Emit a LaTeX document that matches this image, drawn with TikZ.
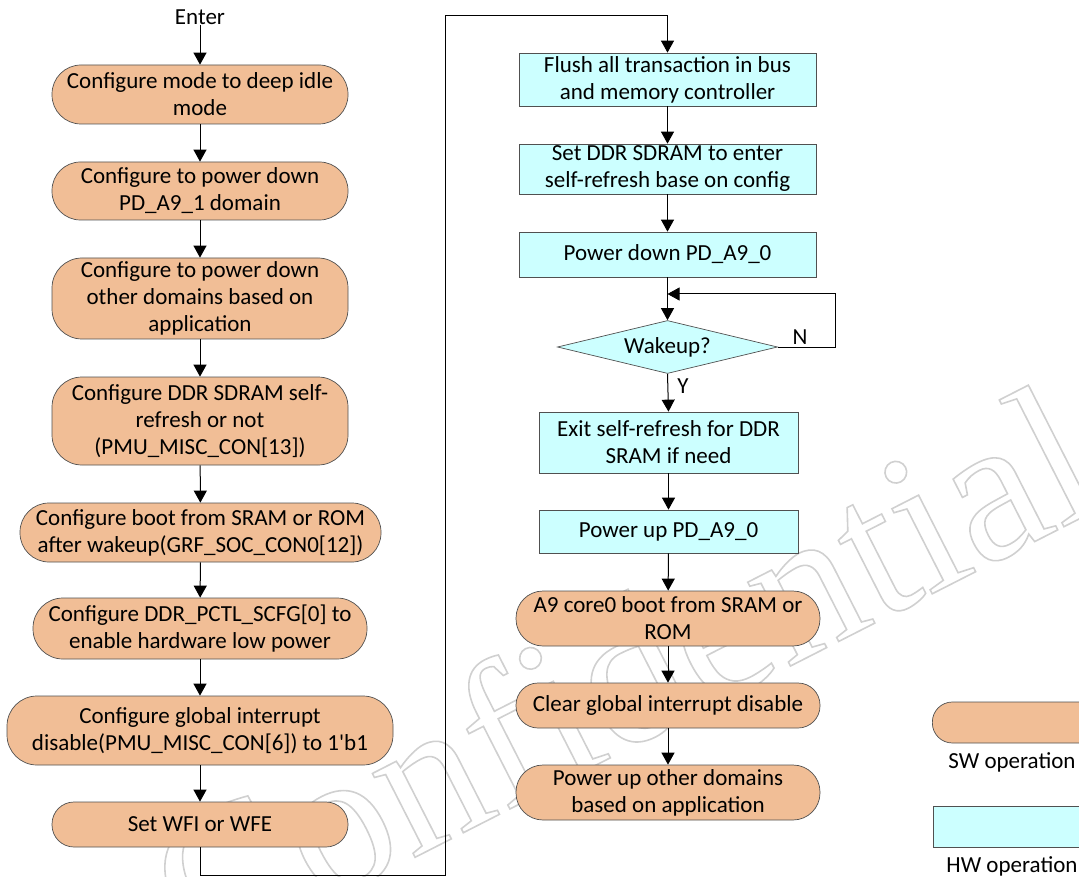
\documentclass[tikz,border=0pt]{standalone}
\usepackage{fontspec}
\setmainfont{Carlito}[Ligatures=TeXOff]
\newfontfamily\markfont{Liberation Serif}
\usetikzlibrary{arrows.meta,shapes.geometric}
\definecolor{swfill}{RGB}{241,190,150}
\definecolor{hwfill}{RGB}{204,255,255}
\definecolor{edge}{RGB}{80,80,80}
\definecolor{markgray}{RGB}{208,208,208}

\begin{document}
\begin{tikzpicture}[x=1pt,y=-1pt,
  every node/.style={font=\fontsize{23}{27}\selectfont, align=center, inner sep=0pt},
  sw/.style={draw=edge, line width=0.7pt, fill=swfill, rounded corners=30pt},
  hw/.style={draw=edge, line width=0.7pt, fill=hwfill},
  flow/.style={line width=1pt, -{Triangle[length=12pt,width=13pt]}},
]
\useasboundingbox (0,0) rectangle (1079,877);

% outlined watermark in the background
\node[rotate=27, text=markgray, font=\markfont\fontsize{205}{205}\selectfont]
  (mark) at (622,672)
  {\special{pdf:literal direct 1 Tr 1.6 w}Confidential\special{pdf:literal direct 0 Tr}};

% left column: software steps before sleeping
\node (enter) at (200,17) {Enter};
\node[sw, rounded corners=29pt, minimum width=296pt, minimum height=59pt] (l1) at (200,94.5)
  {Configure mode to deep idle\\mode};
\node[sw, rounded corners=28.5pt, minimum width=296pt, minimum height=58pt] (l2) at (200,191)
  {Configure to power down\\PD\_A9\_1 domain};
\node[sw, minimum width=296pt, minimum height=81pt] (l3) at (200,298.5)
  {Configure to power down\\other domains based on\\application};
\node[sw, minimum width=296pt, minimum height=88pt] (l4) at (200,421)
  {Configure DDR SDRAM self-\\refresh or not\\(PMU\_MISC\_CON[13])};
\node[sw, rounded corners=29pt, minimum width=361pt, minimum height=59pt] (l5) at (200.5,532.5)
  {Configure boot from SRAM or ROM\\after wakeup(GRF\_SOC\_CON0[12])};
\node[sw, minimum width=334pt, minimum height=61pt] (l6) at (200,628.5)
  {Configure DDR\_PCTL\_SCFG[0] to\\enable hardware low power};
\node[sw, minimum width=386pt, minimum height=69pt] (l7) at (200,730.5)
  {Configure global interrupt\\disable(PMU\_MISC\_CON[6]) to 1'b1};
\node[sw, rounded corners=22pt, minimum width=296pt, minimum height=45pt] (l8) at (200,824.5)
  {Set WFI or WFE};

% right column: hardware sequence and wakeup
\node[hw, minimum width=297pt, minimum height=53pt] (r1) at (667.5,79.5)
  {Flush all transaction in bus\\and memory controller};
\node[hw, minimum width=297pt, minimum height=50pt] (r2) at (667.5,169)
  {Set DDR SDRAM to enter\\self-refresh base on config};
\node[hw, minimum width=297pt, minimum height=45pt] (r3) at (667.5,254.5)
  {Power down PD\_A9\_0};
\node[hw, diamond, aspect=4.15, minimum width=220pt, minimum height=53pt] (wake) at (667.5,347)
  {Wakeup?};
\node[hw, minimum width=259pt, minimum height=61pt] (r4) at (668.5,442.5)
  {Exit self-refresh for DDR\\SRAM if need};
\node[hw, minimum width=259pt, minimum height=43pt] (r5) at (668.5,531.5)
  {Power up PD\_A9\_0};
\node[sw, rounded corners=27pt, minimum width=304pt, minimum height=55pt] (r6) at (668,618.5)
  {A9 core0 boot from SRAM or\\ROM};
\node[sw, rounded corners=22pt, minimum width=304pt, minimum height=45pt] (r7) at (668,705.5)
  {Clear global interrupt disable};
\node[sw, rounded corners=27pt, minimum width=304pt, minimum height=55pt] (r8) at (668,792.5)
  {Power up other domains\\based on application};

\node (nlabel) at (800,337) {N};
\node (ylabel) at (683,386) {Y};

% connectors
\draw[flow] (enter) -- (l1);
\draw[flow] (l1) -- (l2);
\draw[flow] (l2) -- (l3);
\draw[flow] (l3) -- (l4);
\draw[flow] (l4) -- (l5);
\draw[flow] (l5) -- (l6);
\draw[flow] (l6) -- (l7);
\draw[flow] (l7) -- (l8);

\coordinate (b1) at (200,875);
\coordinate (b2) at (445,875);
\coordinate (b3) at (445,16);
\coordinate (b4) at (667.5,16);
\draw[flow] (l8.south) -- (b1) -- (b2) -- (b3) -- (b4) -- (r1.north);

\draw[flow] (r1) -- (r2);
\draw[flow] (r2) -- (r3);
\draw[flow] (r3) -- (wake);
\coordinate (n1) at (835,347);
\coordinate (n2) at (835,294);
\coordinate (loopin) at (667.5,294);
\draw[flow] (wake.east) -- (n1) -- (n2) -- (loopin);
\draw[flow] (wake.south) -- (r4.north);
\draw[flow] (r4) -- (r5);
\draw[flow] (r5) -- (r6);
\draw[flow] (r6) -- (r7);
\draw[flow] (r7) -- (r8);

% legend
\begin{scope}
  \clip (0,0) rectangle (1079,877);
  \node[sw, rounded corners=20pt, minimum width=220pt, minimum height=41pt, anchor=west] (swkey) at (932,722.5) {};
  \node[hw, minimum width=220pt, minimum height=41pt, anchor=west] (hwkey) at (933,826.5) {};
\end{scope}
\node (swtext) at (1012,762) {SW operation};
\node (hwtext) at (1012,866) {HW operation};
\end{tikzpicture}
\end{document}
